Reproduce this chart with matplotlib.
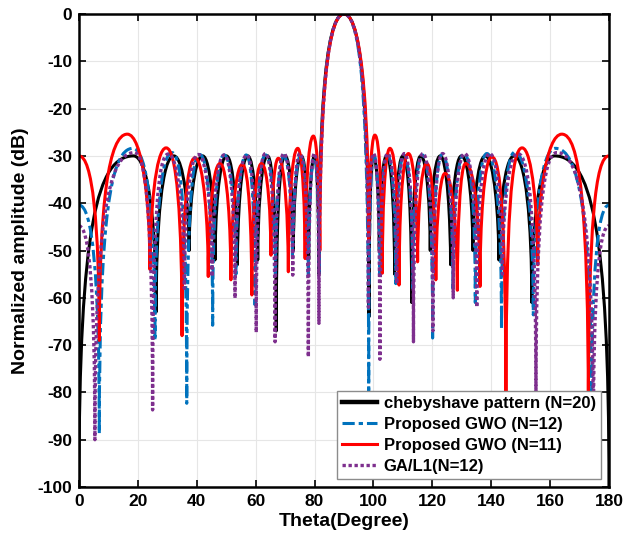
import numpy as np
import matplotlib.pyplot as plt
from matplotlib.path import Path
from matplotlib.patches import PathPatch
from matplotlib.lines import Line2D

plt.rcParams['font.family'] = ['Liberation Sans', 'DejaVu Sans']
plt.rcParams['font.weight'] = 'bold'
plt.rcParams['axes.labelweight'] = 'bold'
plt.rcParams['axes.unicode_minus'] = False

# lobe extrema (theta in degrees, level in dB), nulls and peaks alternate
cheb_theta = [0, 18.5, 26.2, 32.2, 37.4, 42.0, 46.2, 50.1, 53.8, 57.3, 60.7, 64.0, 67.0, 70.0,
              72.8, 75.5, 78.0, 80.0, 81.5, 90, 98.5, 100.0, 102.0, 104.5, 107.2, 110.0, 113.0,
              116.1, 119.3, 122.7, 126.2, 129.9, 133.8, 138.0, 142.6, 147.8, 153.8, 161.5, 180]
cheb_db = [-100, -30, -63, -30, -50, -30, -52, -30, -53, -30, -52, -30, -67, -30,
           -50, -30, -52, -30, -55, 0, -64, -30, -50, -30, -55, -30, -61,
           -30, -50, -30, -53, -30, -50, -30, -52, -30, -61, -30, -100]

gwo12_theta = [0, 6.9, 18.3, 25.8, 31.6, 36.6, 41.0, 45.4, 49.3, 53.3, 56.8, 59.8, 63.4, 66.7,
               69.6, 72.5, 75.3, 77.9, 80.0, 81.6, 90, 98.4, 100.2, 102.2, 104.8, 107.6, 110.4,
               113.4, 116.6, 120.1, 123.4, 127.0, 130.8, 134.6, 138.5, 143.5, 148.0, 154.3,
               161.8, 174.1, 180]
gwo12_db = [-40.4, -88.7, -28.4, -69, -29.3, -82.3, -29.7, -65.8, -29.8, -55, -29.8, -61.5, -29.8, -55,
            -30, -52, -30, -56, -30.5, -55, 0, -81, -30, -55, -29.8, -57, -29.8,
            -58, -29.8, -68.5, -29.7, -58, -29.5, -61, -29.5, -66.6, -29.2, -63.6,
            -28.4, -85, -40.4]

gwo11_theta = [0, 6.9, 16.4, 24.1, 29.6, 35.0, 39.4, 43.9, 47.9, 51.6, 55.5, 58.7, 62.0, 65.2,
               67.7, 71.1, 74.3, 76.8, 79.6, 81.8, 90, 98.4, 100.5, 103.0, 105.6, 108.7, 111.9,
               115.0, 118.1, 121.2, 124.3, 128.5, 131.3, 136.2, 140.2, 145.0, 150.5, 155.8,
               164.0, 173.0, 180]
gwo11_db = [-30, -69, -25.4, -54, -28.3, -68, -30.4, -55.5, -31.6, -56.2, -31.8, -59.4, -31.6, -51,
            -30.5, -54.5, -28.4, -51.7, -25.8, -50, 0, -48, -25.6, -54.8, -28.4, -57.3, -29.5,
            -52.4, -31.6, -56.2, -33.7, -58.4, -31.6, -57.6, -30.2, -85, -28.3, -53,
            -25.4, -85, -30]

ga_theta = [0, 5.4, 18.8, 25.0, 30.3, 35.8, 40.5, 45.2, 49.3, 53.0, 57.0, 60.2, 63.3, 66.6,
            69.6, 72.6, 75.0, 77.9, 80.0, 81.5, 90, 98.3, 100.0, 102.2, 104.8, 107.9, 110.5,
            113.6, 116.8, 120.2, 123.5, 127.1, 131.0, 135.1, 139.5, 143.8, 149.0, 155.2,
            162.3, 174.7, 180]
ga_db = [-44.8, -90, -29.3, -83.7, -29.6, -58, -29.7, -55.5, -29.8, -60.1, -29.8, -67.3, -29.5, -69.3,
         -29.5, -55.2, -29.5, -72.5, -29.5, -65.4, 0, -62, -29.5, -73, -29.5, -57, -29.5,
         -69.3, -29.5, -67, -29.5, -60, -29.5, -62, -29.5, -55, -29.5, -81,
         -29.3, -90, -44.8]

labels = ['chebyshave pattern (N=20)', 'Proposed GWO (N=12)', 'Proposed GWO (N=11)', 'GA/L1(N=12)']


def lobe_path(th, db):
    # join consecutive extrema with cubic bezier arcs (round tops, steep nulls)
    verts = [(th[0], db[0])]
    codes = [Path.MOVETO]
    for i in range(len(th) - 1):
        x0, y0, x1, y1 = th[i], db[i], th[i + 1], db[i + 1]
        top, low = max(y0, y1), min(y0, y1)
        if top > -10:
            c, k = 0.2, max(-25, 0.8 * (low - top))
        else:
            c, k = 0.35, max(-14, 0.6 * (low - top))
        w = x1 - x0
        if y1 > y0:
            p1, p2 = (x0, top + k), (x0 + c * w, top)
        else:
            p1, p2 = (x1 - c * w, top), (x1, top + k)
        verts += [p1, p2, (x1, y1)]
        codes += [Path.CURVE4] * 3
    return Path(verts, codes)


fig = plt.figure(figsize=(6.36, 5.41), dpi=100)
ax = fig.add_axes([0.1242, 0.0998, 0.8333, 0.8743])

styles = [
    (cheb_theta, cheb_db, 'black', '-', 2.2),
    (gwo12_theta, gwo12_db, (0, 0.447, 0.741), (0, (4, 1.3, 1.4, 1.3)), 2.2),
    (gwo11_theta, gwo11_db, (1, 0, 0), '-', 2.2),
    (ga_theta, ga_db, (0.494, 0.184, 0.556), (0, (1.0, 0.8)), 2.4),
]

handles = []
for (th, db, col, ls, lw), lab in zip(styles, labels):
    patch = PathPatch(lobe_path(th, db), fill=False, edgecolor=col, lw=lw, linestyle=ls,
                      capstyle='butt', joinstyle='round')
    ax.add_patch(patch)
    handles.append(Line2D([], [], color=col, lw=lw + 1 if col == 'black' else lw,
                          linestyle=ls, label=lab))

ax.set_xlim(0, 180)
ax.set_ylim(-100, 0)
ax.set_xticks(np.arange(0, 181, 20))
ax.set_yticks(np.arange(-100, 1, 10))
ax.tick_params(direction='in', top=True, right=True, length=5, width=1.2, labelsize=12.5, pad=5)
for lab in ax.get_xticklabels() + ax.get_yticklabels():
    lab.set_fontweight('bold')
ax.grid(True, color='#e6e6e6', lw=0.8)
ax.set_axisbelow(True)
for sp in ax.spines.values():
    sp.set_linewidth(1.8)

ax.set_xlabel('Theta(Degree)', fontsize=14, fontweight='bold', labelpad=3)
ax.set_ylabel('Normalized amplitude (dB)', fontsize=14, fontweight='bold', labelpad=6)

leg = ax.legend(handles=handles, loc='lower right', fontsize=12, fancybox=False, framealpha=1,
                edgecolor='#8c8c8c', borderaxespad=0.5, handlelength=2.1, labelspacing=0.35,
                handletextpad=0.4, borderpad=0.3)
leg.get_frame().set_linewidth(1.0)
for t in leg.get_texts():
    t.set_fontweight('bold')

fig.savefig('out.png', dpi=100)
